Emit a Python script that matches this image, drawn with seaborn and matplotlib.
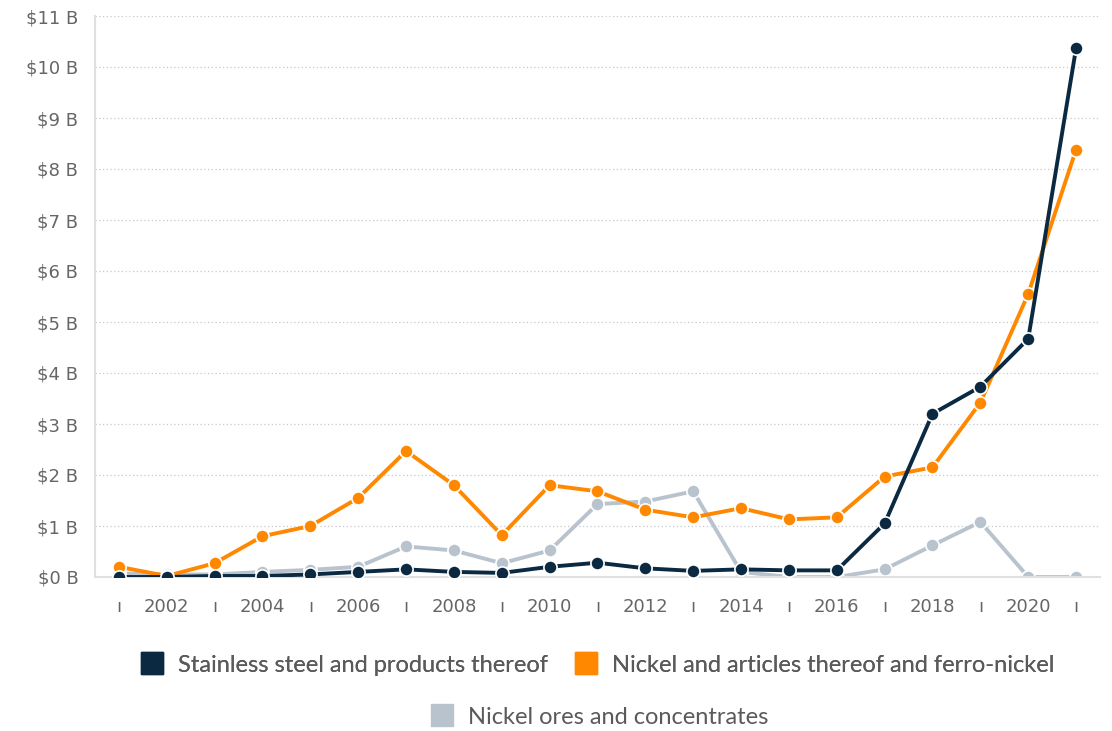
import pandas as pd
import matplotlib.pyplot as plt
import matplotlib.ticker as mticker
from matplotlib.lines import Line2D
import seaborn as sns

anos = list(range(2001, 2022))

inox = [0.0, 0.0, 0.02, 0.02, 0.05, 0.1, 0.15, 0.1, 0.08, 0.2, 0.28, 0.17,
        0.12, 0.15, 0.13, 0.13, 1.05, 3.2, 3.73, 4.67, 10.37]
niquel = [0.2, 0.02, 0.27, 0.8, 1.0, 1.55, 2.47, 1.8, 0.82, 1.8, 1.68, 1.32,
          1.17, 1.35, 1.13, 1.17, 1.97, 2.15, 3.42, 5.55, 8.38]
minerio = [0.07, 0.05, 0.05, 0.1, 0.14, 0.2, 0.6, 0.52, 0.27, 0.52, 1.43, 1.48,
           1.68, 0.1, 0.0, 0.0, 0.15, 0.62, 1.08, 0.0, 0.0]

series = ['Stainless steel and products thereof',
          'Nickel and articles thereof and ferro-nickel',
          'Nickel ores and concentrates']
cores = ['#0b2a42', '#ff8800', '#b9c3ce']

df = pd.concat([
    pd.DataFrame({'ano': anos, 'valor': v, 'serie': s})
    for v, s in zip([inox, niquel, minerio], series)
])

sns.set_style('white')
plt.rcParams['font.family'] = ['Lato', 'DejaVu Sans']

fig = plt.figure(figsize=(11.12, 7.31), dpi=100)
ax = fig.add_axes([95 / 1112, 1 - 577 / 731, 1005 / 1112, 561 / 731])

# desenhar na ordem inversa para a serie escura ficar por cima
for s, c, z in zip(series[::-1], cores[::-1], [2, 3, 4]):
    sns.lineplot(data=df[df['serie'] == s], x='ano', y='valor', color=c,
                 marker='o', markersize=9.5, markeredgecolor='white',
                 markeredgewidth=1.2, linewidth=2.8, ax=ax, zorder=z,
                 legend=False)

ax.set_xlim(2000.5, 2021.5)
ax.set_ylim(0, 11)
ax.set_xlabel('')
ax.set_ylabel('')

ax.set_yticks(range(0, 12))
ax.yaxis.set_major_formatter(mticker.FuncFormatter(lambda v, p: f'${int(v)} B'))
ax.grid(axis='y', color='#c8c8c8', linestyle=(0, (1, 2)), linewidth=0.9)
ax.set_axisbelow(True)

ax.set_xticks(anos)
ax.set_xticklabels([str(a) if a % 2 == 0 else 'ı' for a in anos])
for lbl, a in zip(ax.get_xticklabels(), anos):
    lbl.set_family('DejaVu Sans')
    if a % 2 == 1:
        lbl.set_color('#d0d0d0')
        lbl.set_fontsize(9)
for lbl in ax.get_yticklabels():
    lbl.set_family('DejaVu Sans')
ax.tick_params(axis='x', length=0, pad=15, labelsize=13, labelcolor='#666666')
ax.tick_params(axis='y', length=7, width=1, color='#e0e0e0', pad=5,
               labelsize=13, labelcolor='#666666')

for lado in ['top', 'right']:
    ax.spines[lado].set_visible(False)
ax.spines['left'].set_color('#e0e0e0')
ax.spines['left'].set_linewidth(1.5)
ax.spines['bottom'].set_color('#e0e0e0')
ax.spines['bottom'].set_linewidth(1.5)

handles = [Line2D([], [], marker='s', linestyle='', markersize=16, color=c)
           for c in cores]
leg1 = fig.legend(handles[:2], series[:2], ncol=2, loc='center',
                  bbox_to_anchor=(0.537, 1 - 665 / 731), frameon=False,
                  fontsize=17, labelcolor='#5a5a5a', handletextpad=0.6,
                  columnspacing=1.1, handlelength=1.0)
fig.legend(handles[2:], series[2:], loc='center',
           bbox_to_anchor=(0.539, 1 - 717 / 731), frameon=False,
           fontsize=17, labelcolor='#5a5a5a', handletextpad=0.6,
           handlelength=1.0)
fig.add_artist(leg1)

fig.savefig('out.png', dpi=100)
